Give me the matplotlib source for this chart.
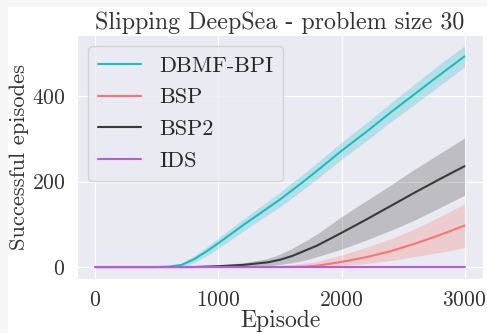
import numpy as np
import matplotlib.pyplot as plt
import seaborn as sns
from matplotlib.patches import Rectangle

sns.set_style("darkgrid")
plt.rcParams['font.family'] = ['cmr10', 'DejaVu Serif']
plt.rcParams['mathtext.fontset'] = 'cm'
plt.rcParams['axes.formatter.use_mathtext'] = True

episodes = [0, 500, 600, 700, 800, 900, 1000, 1200, 1400, 1500, 1600, 1700, 1800,
            2000, 2200, 2400, 2500, 2600, 2800, 3000]

dbmf_mean = [0, 0, 1, 5, 18, 36, 56, 98, 138, 158, 180, 202, 225,
             272, 316, 362, 384, 406, 450, 493]
dbmf_lo = [0, 0, 0, 1, 10, 26, 44, 84, 122, 141, 162, 184, 206,
           252, 295, 340, 361, 382, 425, 468]
dbmf_hi = [0, 0, 2, 9, 26, 46, 68, 112, 154, 175, 198, 220, 244,
           292, 337, 384, 407, 430, 475, 518]

bsp2_mean = [0, 0, 0, 0, 0, 1, 2, 5, 11, 17, 26, 38, 50,
             80, 111, 143, 159, 175, 206, 236]
bsp2_lo = [0, 0, 0, 0, 0, 0, 0, 1, 3, 6, 10, 16, 24,
           42, 63, 86, 98, 111, 139, 168]
bsp2_hi = [0, 0, 0, 0, 0, 2, 4, 10, 20, 30, 44, 60, 77,
           118, 155, 192, 211, 230, 266, 302]

bsp_mean = [0, 0, 0, 0, 0, 0, 0, 0, 0, 0, 0, 1, 3,
            12, 23, 37, 46, 55, 75, 97]
bsp_lo = [0, 0, 0, 0, 0, 0, 0, 0, 0, 0, 0, 0, 0,
          3, 8, 15, 20, 25, 34, 45]
bsp_hi = [0, 0, 0, 0, 0, 0, 1, 2, 3, 4, 6, 9, 13,
          28, 46, 66, 78, 90, 118, 148]

ids_mean = [0] * len(episodes)

colors = {'DBMF-BPI': '#17bfc4', 'BSP': '#f8766d', 'BSP2': '#3a3a3a', 'IDS': '#b95ae0'}

fig = plt.figure(figsize=(4.87, 3.33), dpi=100)
fig.patch.set_facecolor('#f7f7f7')
fig.patches.append(Rectangle((8 / 487, 0), 1, 1 - 7 / 333, transform=fig.transFigure,
                             facecolor='white', edgecolor='none', zorder=-1))
ax = fig.add_axes([77 / 487, 54 / 333, 406 / 487, 244 / 333])

series = [('DBMF-BPI', dbmf_mean, dbmf_lo, dbmf_hi),
          ('BSP', bsp_mean, bsp_lo, bsp_hi),
          ('BSP2', bsp2_mean, bsp2_lo, bsp2_hi),
          ('IDS', ids_mean, ids_mean, ids_mean)]
for name, m, lo, hi in series:
    c = colors[name]
    ax.plot(episodes, m, color=c, lw=1.5, label=name)
    ax.fill_between(episodes, lo, hi, color=c, alpha=0.25, lw=0)

ax.set_xlim(-150, 3150)
ax.set_ylim(-28, 543)
ax.set_xticks([0, 1000, 2000, 3000])
ax.set_yticks([0, 200, 400])
ax.tick_params(labelsize=15.5, colors='#333333', pad=5)
ax.set_xlabel('Episode', fontsize=17, color='#333333', labelpad=0)
ax.set_ylabel('Successful episodes', fontsize=16.2, color='#333333', labelpad=2)
ax.set_title('Slipping DeepSea - problem size 30', fontsize=17.3, color='#333333', pad=4)
leg = ax.legend(loc='upper left', fontsize=16, handlelength=1.95, borderpad=0.45,
                labelspacing=0.55, handletextpad=0.8, frameon=True,
                bbox_to_anchor=(0.0, 1.0))

fig.savefig('out.png', dpi=100, facecolor=fig.get_facecolor())
